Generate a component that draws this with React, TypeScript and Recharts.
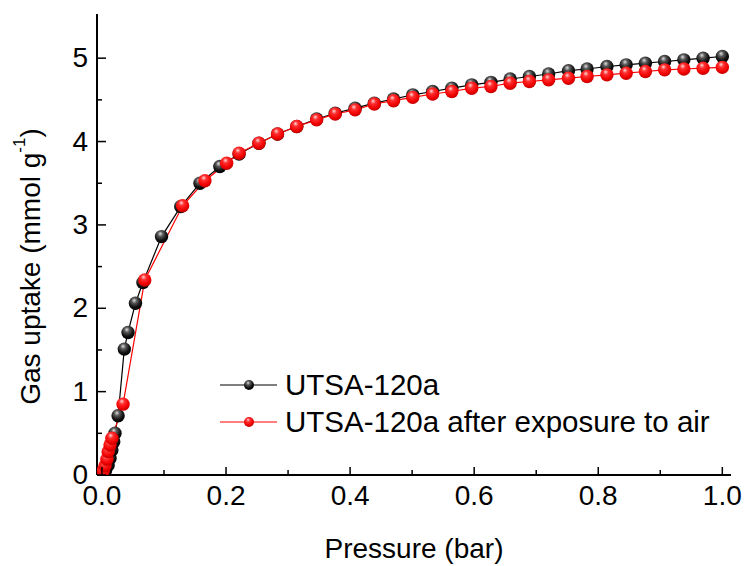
import React from 'react';
import { LineChart, Line, XAxis, YAxis, Legend } from 'recharts';

// UTSA-120a (black)
const pressureFresh = [0.003, 0.006, 0.010, 0.013, 0.016, 0.019, 0.021, 0.026, 0.036, 0.042, 0.054, 0.066, 0.096, 0.127, 0.158, 0.190, 0.221, 0.253, 0.283, 0.314, 0.346, 0.376, 0.408, 0.439, 0.470, 0.501, 0.533, 0.564, 0.596, 0.627, 0.658, 0.689, 0.720, 0.752, 0.782, 0.814, 0.845, 0.876, 0.907, 0.938, 0.969, 1.000];
const uptakeFresh = [0.02, 0.06, 0.12, 0.20, 0.30, 0.40, 0.50, 0.71, 1.51, 1.71, 2.06, 2.31, 2.86, 3.22, 3.50, 3.70, 3.85, 3.98, 4.09, 4.18, 4.27, 4.34, 4.40, 4.46, 4.51, 4.56, 4.60, 4.64, 4.68, 4.71, 4.75, 4.78, 4.81, 4.85, 4.87, 4.90, 4.92, 4.94, 4.96, 4.98, 5.00, 5.02];

// UTSA-120a after exposure to air (red)
const pressureAir = [0.002, 0.005, 0.008, 0.010, 0.013, 0.016, 0.034, 0.069, 0.130, 0.166, 0.201, 0.221, 0.253, 0.283, 0.314, 0.346, 0.376, 0.408, 0.439, 0.470, 0.501, 0.533, 0.564, 0.596, 0.627, 0.658, 0.689, 0.720, 0.752, 0.782, 0.814, 0.845, 0.876, 0.907, 0.938, 0.969, 1.000];
const uptakeAir = [0.05, 0.11, 0.19, 0.28, 0.36, 0.44, 0.85, 2.34, 3.23, 3.53, 3.74, 3.86, 3.98, 4.09, 4.18, 4.26, 4.33, 4.38, 4.45, 4.49, 4.53, 4.57, 4.60, 4.64, 4.66, 4.70, 4.72, 4.74, 4.76, 4.78, 4.80, 4.82, 4.84, 4.86, 4.87, 4.88, 4.89];

const seriesNames = ['UTSA-120a', 'UTSA-120a after exposure to air'];
const seriesColors = ['#000000', '#ff0000'];
const seriesGradients = ['sphereBlack', 'sphereRed'];

const xTicks = [0, 0.1, 0.2, 0.3, 0.4, 0.5, 0.6, 0.7, 0.8, 0.9, 1.0];
const yTicks = [0, 0.5, 1, 1.5, 2, 2.5, 3, 3.5, 4, 4.5, 5];

const xTitle = 'Pressure (bar)';
const yTitleMain = 'Gas uptake (mmol g';
const yTitleSup = '-1';

const dataFresh = pressureFresh.map((p, i) => ({ p, v: uptakeFresh[i] }));
const dataAir = pressureAir.map((p, i) => ({ p, v: uptakeAir[i] }));

const FONT = "'Liberation Sans', Arial, sans-serif";

const makeDot = (grad: string) => (props: any) => {
  const { cx, cy, index } = props;
  if (cx == null || cy == null) return <g key={`${grad}-${index}`} />;
  return <circle key={`${grad}-${index}`} cx={cx} cy={cy} r={6.7} fill={`url(#${grad})`} />;
};

const XTick = (props: any) => {
  const { x, y, payload } = props;
  const v = payload.value as number;
  const major = Math.round(v * 10) % 2 === 0;
  return (
    <g>
      <line x1={x} x2={x} y1={y} y2={y - (major ? 8 : 5)} stroke="#000" strokeWidth={1.5} />
      {major && (
        <text x={x} y={y + 30} textAnchor="middle" fontSize={28} fontFamily={FONT} fill="#000">
          {v.toFixed(1)}
        </text>
      )}
    </g>
  );
};

const YTick = (props: any) => {
  const { x, y, payload } = props;
  const v = payload.value as number;
  const major = Math.abs(v - Math.round(v)) < 1e-6;
  return (
    <g>
      <line x1={x} x2={x + (major ? 9 : 5)} y1={y} y2={y} stroke="#000" strokeWidth={1.5} />
      {major && (
        <text x={x - 9} y={y + 9} textAnchor="end" fontSize={28} fontFamily={FONT} fill="#000">
          {String(Math.round(v))}
        </text>
      )}
    </g>
  );
};

const YLabel = (props: any) => {
  const { viewBox } = props;
  const cx = viewBox.x + 30;
  const cy = viewBox.y + viewBox.height / 2 + 22;
  return (
    <text
      x={cx}
      y={cy}
      transform={`rotate(-90, ${cx}, ${cy})`}
      textAnchor="middle"
      dominantBaseline="central"
      fontSize={28}
      fontFamily={FONT}
      fill="#000"
    >
      {yTitleMain}
      <tspan fontSize={17} dy={-11}>{yTitleSup}</tspan>
      <tspan dy={11}>)</tspan>
    </text>
  );
};

const XLabel = (props: any) => {
  const { viewBox } = props;
  const cx = viewBox.x + viewBox.width / 2;
  return (
    <text x={cx} y={558} textAnchor="middle" fontSize={28} fontFamily={FONT} fill="#000">
      {xTitle}
    </text>
  );
};

const renderLegend = () => (
  <div style={{ fontFamily: FONT, fontSize: 29.5, color: '#000' }}>
    {seriesNames.map((name, i) => (
      <div key={name} style={{ display: 'flex', alignItems: 'center', height: 37 }}>
        <svg width={65} height={20} style={{ flex: 'none' }}>
          <line x1={0} x2={57} y1={10} y2={10} stroke={seriesColors[i]} strokeWidth={1.2} />
          <circle cx={29} cy={10} r={5} fill={`url(#${seriesGradients[i]})`} />
        </svg>
        <span style={{ whiteSpace: 'nowrap' }}>{name}</span>
      </div>
    ))}
  </div>
);

export default function App() {
  return (
    <div style={{ position: 'absolute', left: 0, top: 0, width: 744, height: 566, background: '#fff' }}>
      <svg width={0} height={0} style={{ position: 'absolute' }}>
        <defs>
          <radialGradient id="sphereBlack" cx="45%" cy="35%" r="65%" fx="40%" fy="28%">
            <stop offset="0%" stopColor="#e0e0e0" />
            <stop offset="30%" stopColor="#5a5a5a" />
            <stop offset="70%" stopColor="#111" />
            <stop offset="100%" stopColor="#000" />
          </radialGradient>
          <radialGradient id="sphereRed" cx="45%" cy="35%" r="65%" fx="40%" fy="28%">
            <stop offset="0%" stopColor="#ffd8d8" />
            <stop offset="30%" stopColor="#ff3030" />
            <stop offset="75%" stopColor="#f00000" />
            <stop offset="100%" stopColor="#c00000" />
          </radialGradient>
        </defs>
      </svg>
      <LineChart width={744} height={566} margin={{ top: 14, right: 13, bottom: 0, left: 0 }}>
        <XAxis
          xAxisId="bottom"
          dataKey="p"
          type="number"
          domain={[-0.008, 1.014]}
          allowDataOverflow
          ticks={xTicks}
          interval={0}
          height={91}
          tickSize={0}
          tickMargin={0}
          tickLine={false}
          tick={<XTick />}
          axisLine={{ stroke: '#000', strokeWidth: 2 }}
          label={<XLabel />}
        />
        <XAxis
          xAxisId="top"
          orientation="top"
          type="number"
          domain={[-0.008, 1.014]}
          allowDataOverflow
          height={0}
          tick={false}
          tickLine={false}
          axisLine={{ stroke: '#000', strokeWidth: 2 }}
        />
        <YAxis
          yAxisId="left"
          type="number"
          domain={[0, 5.53]}
          allowDataOverflow
          ticks={yTicks}
          interval={0}
          width={97}
          tickSize={0}
          tickMargin={0}
          tickLine={false}
          tick={<YTick />}
          axisLine={{ stroke: '#000', strokeWidth: 2 }}
          label={<YLabel />}
        />
        <YAxis
          yAxisId="right"
          orientation="right"
          type="number"
          domain={[0, 5.53]}
          allowDataOverflow
          width={0}
          tick={false}
          tickLine={false}
          axisLine={{ stroke: '#000', strokeWidth: 2 }}
        />
        <Line
          xAxisId="bottom"
          yAxisId="left"
          data={dataFresh}
          dataKey="v"
          name={seriesNames[0]}
          stroke={seriesColors[0]}
          strokeWidth={1.2}
          dot={makeDot(seriesGradients[0])}
          isAnimationActive={false}
        />
        <Line
          xAxisId="bottom"
          yAxisId="left"
          data={dataAir}
          dataKey="v"
          name={seriesNames[1]}
          stroke={seriesColors[1]}
          strokeWidth={1.2}
          dot={makeDot(seriesGradients[1])}
          isAnimationActive={false}
        />
        <Legend
          layout="horizontal"
          verticalAlign="middle"
          align="center"
          content={renderLegend}
          wrapperStyle={{ position: 'absolute', left: 220, top: 366, width: 520, bottom: 'auto', right: 'auto' }}
        />
      </LineChart>
    </div>
  );
}
